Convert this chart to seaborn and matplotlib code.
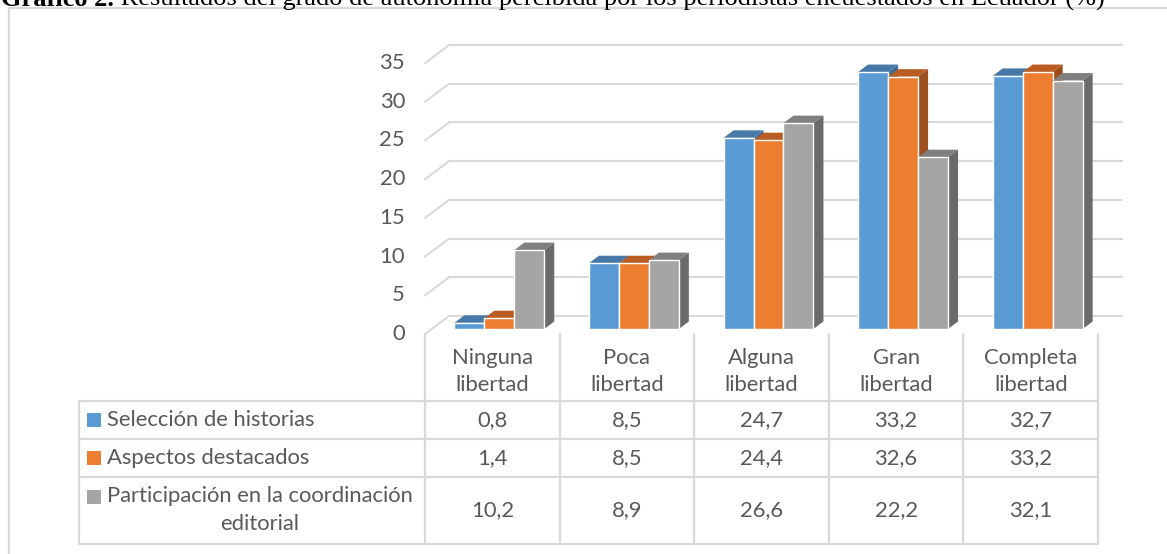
import matplotlib
matplotlib.use("Agg")
import matplotlib.pyplot as plt
from matplotlib.patches import Polygon, Rectangle
from matplotlib.lines import Line2D
import seaborn as sns
import pandas as pd

# ---- data -------------------------------------------------------------
categories = ["Ninguna\nlibertad", "Poca\nlibertad", "Alguna\nlibertad",
              "Gran\nlibertad", "Completa\nlibertad"]
series = ["Selección de historias", "Aspectos destacados",
          "Participación en la coordinación\neditorial"]
seleccion = [0.8, 8.5, 24.7, 33.2, 32.7]
aspectos = [1.4, 8.5, 24.4, 32.6, 33.2]
participacion = [10.2, 8.9, 26.6, 22.2, 32.1]
y_ticks = [0, 5, 10, 15, 20, 25, 30, 35]
title_bold = "Gráfico 2."
title_rest = (" Resultados del grado de autonomía percibida por los "
              "periodistas encuestados en Ecuador (%)")

values = [seleccion, aspectos, participacion]
df = pd.DataFrame({
    "categoria": [c for _ in series for c in categories],
    "serie": [s for s in series for _ in categories],
    "valor": [v for vals in values for v in vals],
})

# ---- style ------------------------------------------------------------
sns.set_theme(style="white")
plt.rcParams["font.family"] = ["Lato", "DejaVu Sans"]
TXT = "#595959"
GRID = "#d9d9d9"
front_colors = ["#5B9BD5", "#ED7D31", "#A5A5A5"]
top_colors = ["#4878A8", "#BA5D22", "#808080"]
side_colors = ["#3E6C98", "#9C4F1D", "#6A6A6A"]
FS = 15.8

W, H = 1167, 554
fig = plt.figure(figsize=(W / 100, H / 100), dpi=100)
fig.patch.set_facecolor("white")


def fx(x):
    return x / W


def fy(y):
    return 1 - y / H


# axes of the bar plane (pixels from top-left)
ax_l, ax_r, ax_bot, px_unit = 432, 1105, 329, 7.74
ymax = 35
ax = fig.add_axes([fx(ax_l), fy(ax_bot), (ax_r - ax_l) / W,
                   ymax * px_unit / H])

sns.barplot(data=df, x="categoria", y="valor", hue="serie",
            palette=front_colors, saturation=1, width=0.668,
            errorbar=None, legend=False, ax=ax)
ax.set_xlim(-0.5, len(categories) - 0.5)
ax.set_ylim(0, ymax)
ax.set_axis_off()

# pixel -> data unit conversion
upx_x = 1.0 / ((ax_r - ax_l) / len(categories))
upx_y = 1.0 / px_unit

# depth of each bar (pixels)
bdx, bdy = 10, 7.5
for h, cont in enumerate(ax.containers):
    for bar in cont:
        x0 = bar.get_x()
        w = bar.get_width()
        top = bar.get_height()
        bar.set_zorder(3 + h + 0.5)
        ddx, ddy = bdx * upx_x, bdy * upx_y
        top_face = Polygon([(x0, top), (x0 + w, top),
                            (x0 + w + ddx, top + ddy), (x0 + ddx, top + ddy)],
                           closed=True, facecolor=top_colors[h],
                           edgecolor="none", zorder=3 + h + 0.2,
                           clip_on=False)
        side_face = Polygon([(x0 + w, 0), (x0 + w + ddx, ddy),
                             (x0 + w + ddx, top + ddy), (x0 + w, top)],
                            closed=True, facecolor=side_colors[h],
                            edgecolor="none", zorder=3 + h + 0.2,
                            clip_on=False)
        ax.add_patch(side_face)
        ax.add_patch(top_face)

# back wall gridlines and left-wall diagonals
back_dx, back_dy = 17, 13      # back wall offset from the bar plane
front_dx, front_dy = -7, -5    # front plane offset from the bar plane
xl, xr = ax.get_xlim()
for v in y_ticks:
    yb = v + back_dy * upx_y
    yf = v + front_dy * upx_y
    ax.add_line(Line2D([xl + back_dx * upx_x, xr + back_dx * upx_x], [yb, yb],
                       color=GRID, lw=1.5, zorder=1, clip_on=False))
    ax.add_line(Line2D([xl + back_dx * upx_x, xl + front_dx * upx_x], [yb, yf],
                       color=GRID, lw=1.5, zorder=1, clip_on=False))

# tick labels on the front plane
fig.canvas.draw()
to_px = ax.transData.transform
front_left_px = to_px((xl, 0))[0] + front_dx
for v in y_ticks:
    ypx = to_px((0, v))[1] + front_dy
    fig.text((front_left_px - 20) / W, ypx / H, str(v), ha="right",
             va="center", fontsize=FS, color=TXT)

# ---- data table -------------------------------------------------------
col_edges = [to_px((i - 0.5, 0))[0] + front_dx for i in range(len(categories) + 1)]
table_left = 79
row_edges = [334, 401, 439, 477, 544]  # header / rows (pixels from top)


def hline(y, x0, x1):
    fig.add_artist(Line2D([x0 / W, x1 / W], [fy(y), fy(y)], color=GRID,
                          lw=1.6, transform=fig.transFigure))


def vline(x, y0, y1):
    fig.add_artist(Line2D([x / W, x / W], [fy(y0), fy(y1)], color=GRID,
                          lw=1.6, transform=fig.transFigure))


for y in row_edges[1:]:
    hline(y, table_left, col_edges[-1])
for x in col_edges:
    vline(x, row_edges[0], row_edges[-1])
vline(table_left, row_edges[1], row_edges[-1])

# category headers
for i, cat in enumerate(categories):
    cx = (col_edges[i] + col_edges[i + 1]) / 2
    fig.text(cx / W, fy((row_edges[0] + row_edges[1]) / 2 + 4), cat,
             ha="center", va="center", fontsize=FS, color=TXT,
             linespacing=1.45)

# row labels with colour keys and values
for r, (name, vals) in enumerate(zip(series, values)):
    y0, y1 = row_edges[r + 1], row_edges[r + 2]
    cy = (y0 + y1) / 2
    first_line_y = cy if "\n" not in name else y0 + 20
    fig.add_artist(Rectangle((87 / W, fy(first_line_y + 7)), 14 / W, 14 / H,
                             facecolor=front_colors[r], edgecolor="none",
                             transform=fig.transFigure))
    if "\n" in name:
        fig.text(107 / W, fy(y0 + 9), name, ha="left", va="top",
                 fontsize=FS, color=TXT, multialignment="center",
                 linespacing=1.5)
    else:
        fig.text(107 / W, fy(cy), name, ha="left", va="center",
                 fontsize=FS, color=TXT)
    for i, v in enumerate(vals):
        cx = (col_edges[i] + col_edges[i + 1]) / 2
        fig.text(cx / W, fy(cy), f"{v:.1f}".replace(".", ","),
                 ha="center", va="center", fontsize=FS, color=TXT)

# ---- outer frame and caption -----------------------------------------
fig.add_artist(Line2D([fx(9), fx(W + 5)], [fy(8), fy(8)], color=GRID, lw=1.6,
                      transform=fig.transFigure))
fig.add_artist(Line2D([fx(9), fx(9)], [fy(8), fy(H + 5)], color=GRID, lw=1.6,
                      transform=fig.transFigure))

t1 = fig.text(fx(1), fy(6), title_bold, ha="left", va="baseline",
              fontsize=19, fontweight="bold", family="Liberation Serif",
              color="black")
fig.canvas.draw()
bb = t1.get_window_extent()
fig.text(bb.x1 / W, fy(6), title_rest, ha="left", va="baseline",
         fontsize=19, family="Liberation Serif", color="black")

fig.savefig("out.png", dpi=100, facecolor="white")
